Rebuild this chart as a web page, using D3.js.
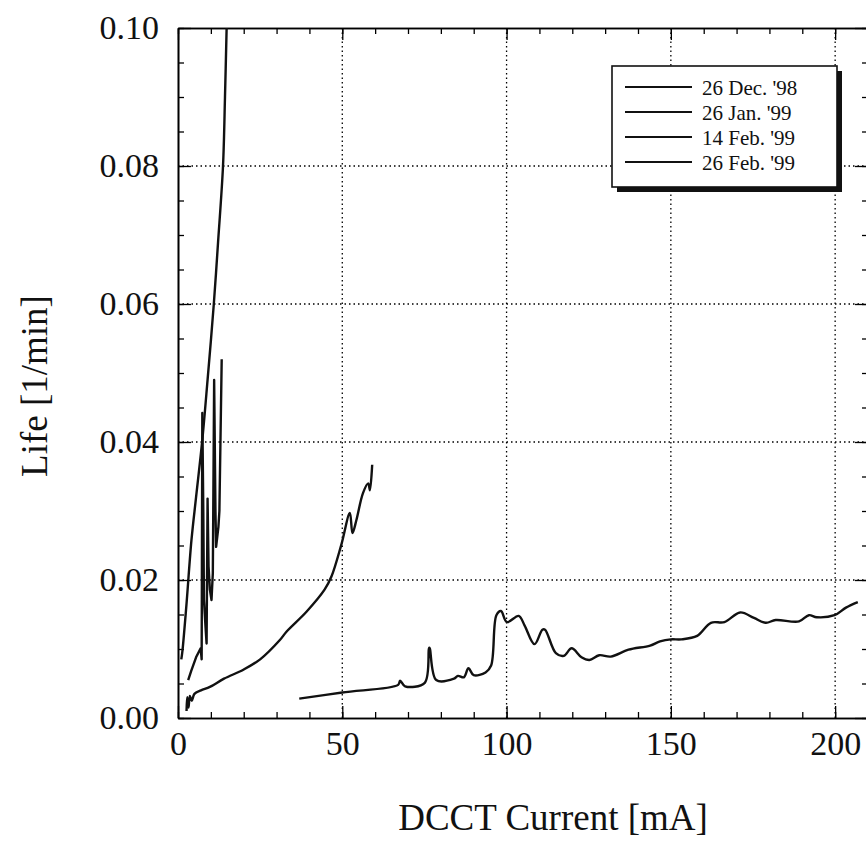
<!DOCTYPE html>
<html>
<head>
<meta charset="utf-8">
<script src="https://cdn.jsdelivr.net/npm/d3@7"></script>
<style>
  body { margin: 0; background: #fff; }
  svg { display: block; font-family: "Liberation Serif", "DejaVu Serif", serif; }
</style>
</head>
<body>
<svg id="chart"></svg>
<script>
// series: [DCCT current (mA), life (1/min)]
let seriesNames = ["26 Dec. '98", "26 Jan. '99", "14 Feb. '99", "26 Feb. '99"];

let dec98 = [
  [1.0, 0.0085], [1.3, 0.0095], [2.5, 0.016], [4.1, 0.0258], [5.5, 0.032],
  [7.4, 0.0403], [9.0, 0.049], [10.9, 0.060], [12.2, 0.069], [13.7, 0.080],
  [14.3, 0.090], [14.8, 0.100]
];

let jan99 = [
  [3.1, 0.0055], [4.0, 0.0068], [5.5, 0.0088], [6.9, 0.0101], [7.2, 0.0085],
  [7.4, 0.0442], [7.7, 0.030], [7.9, 0.0171], [8.4, 0.013], [8.7, 0.0108],
  [9.0, 0.0318], [9.3, 0.022], [9.7, 0.0186], [10.2, 0.0171], [10.6, 0.021],
  [11.0, 0.049], [11.4, 0.030], [11.6, 0.0248], [12.3, 0.0277], [12.6, 0.030],
  [13.3, 0.052]
];

let feb14 = [
  [2.6, 0.0010], [2.8, 0.0030], [3.2, 0.0015], [3.6, 0.0032], [4.2, 0.0025],
  [5.0, 0.0035], [7.0, 0.0040], [9.7, 0.0045], [14.0, 0.0057], [19.9, 0.0070],
  [25.0, 0.0085], [31.0, 0.0113], [33.0, 0.0125], [39.1, 0.0154], [44.6, 0.0186],
  [46.7, 0.0205], [49.7, 0.0251], [52.3, 0.0297], [53.1, 0.0268], [54.3, 0.0287],
  [56.3, 0.0326], [57.9, 0.034], [58.4, 0.033], [59.1, 0.0367]
];

let feb26 = [
  [36.9, 0.0028], [50.0, 0.0037], [67.0, 0.0048], [67.6, 0.0054], [69.1, 0.0046],
  [75.1, 0.0051], [76.5, 0.0102], [78.6, 0.0055], [84.0, 0.0057], [85.2, 0.0061],
  [87.0, 0.0059], [88.4, 0.0072], [90.0, 0.0062], [93.6, 0.0066], [95.3, 0.0076],
  [96.9, 0.0149], [98.3, 0.0155], [100.1, 0.0139], [103.7, 0.0148], [105.5, 0.0134],
  [108.5, 0.0107], [110.9, 0.0128], [111.7, 0.0128], [115.0, 0.0094], [117.4, 0.0090],
  [119.8, 0.0101], [122.8, 0.0088], [125.2, 0.0084], [128.2, 0.0091], [131.7, 0.0089],
  [137.1, 0.0099], [143.7, 0.0105], [146.7, 0.0111], [150.0, 0.0114], [153.2, 0.0114],
  [158.0, 0.0119], [162.2, 0.0138], [166.3, 0.0139], [171.1, 0.0153], [175.3, 0.0145],
  [178.9, 0.0138], [181.9, 0.0142], [189.0, 0.0140], [192.0, 0.0149], [194.4, 0.0146],
  [199.8, 0.0149], [203.3, 0.0160], [206.9, 0.0168]
];

let allSeries = [dec98, jan99, feb14, feb26];
let smooth = [true, false, true, true];

let xMajor = [0, 50, 100, 150, 200];
let yMajor = [0, 0.02, 0.04, 0.06, 0.08, 0.10];

let width = 866;
let height = 845;
let plotLeft = 178, plotRight = 868, plotTop = 28, plotBottom = 718;

let svg = d3.select("#chart").attr("width", width).attr("height", height);
svg.append("rect").attr("width", width).attr("height", height).attr("fill", "#fff");

let xScale = d3.scaleLinear().domain([0, 210]).range([plotLeft, plotRight]);
let yScale = d3.scaleLinear().domain([0, 0.10]).range([plotBottom, plotTop]);

// dotted grid
let grid = svg.append("g").attr("stroke", "#000").attr("stroke-width", 1.3)
  .attr("stroke-dasharray", "1.5,3");
grid.selectAll(".gx").data(xMajor.slice(1)).enter().append("line")
  .attr("x1", d => xScale(d)).attr("x2", d => xScale(d))
  .attr("y1", plotTop).attr("y2", plotBottom);
grid.selectAll(".gy").data(yMajor.slice(1, -1)).enter().append("line")
  .attr("x1", plotLeft).attr("x2", plotRight)
  .attr("y1", d => yScale(d)).attr("y2", d => yScale(d));

// ticks on all four sides, pointing inward
let xMinor = d3.range(0, 211, 10);
let yMinor = d3.range(0, 0.1001, 0.005);

let tickAxis = (axis, transform) => {
  let g = svg.append("g").attr("transform", transform).call(axis);
  g.selectAll("text").remove();
  g.select(".domain").attr("stroke-width", 1.6);
  g.selectAll(".tick line").attr("stroke-width", 1.3);
  return g;
};

tickAxis(d3.axisBottom(xScale).tickValues(xMinor).tickSizeInner(-6).tickSizeOuter(0), `translate(0,${plotBottom})`);
tickAxis(d3.axisBottom(xScale).tickValues(xMajor).tickSizeInner(-12).tickSizeOuter(0), `translate(0,${plotBottom})`);
tickAxis(d3.axisTop(xScale).tickValues(xMinor).tickSizeInner(-6).tickSizeOuter(0), `translate(0,${plotTop})`);
tickAxis(d3.axisTop(xScale).tickValues(xMajor).tickSizeInner(-12).tickSizeOuter(0), `translate(0,${plotTop})`);
tickAxis(d3.axisLeft(yScale).tickValues(yMinor).tickSizeInner(-6).tickSizeOuter(0), `translate(${plotLeft},0)`);
tickAxis(d3.axisLeft(yScale).tickValues(yMajor).tickSizeInner(-13).tickSizeOuter(0), `translate(${plotLeft},0)`);
tickAxis(d3.axisRight(yScale).tickValues(yMinor).tickSizeInner(-6).tickSizeOuter(0), `translate(${plotRight},0)`);
tickAxis(d3.axisRight(yScale).tickValues(yMajor).tickSizeInner(-13).tickSizeOuter(0), `translate(${plotRight},0)`);

// tick labels
let xLab = svg.append("g").attr("transform", `translate(0,${plotBottom})`)
  .call(d3.axisBottom(xScale).tickValues(xMajor).tickSize(0).tickPadding(13).tickFormat(d3.format("d")));
xLab.select(".domain").remove();
xLab.selectAll("text").attr("font-size", 34).attr("font-family", "Liberation Serif").attr("fill", "#111");

let yLab = svg.append("g").attr("transform", `translate(${plotLeft},0)`)
  .call(d3.axisLeft(yScale).tickValues(yMajor).tickSize(0).tickPadding(19).tickFormat(d3.format(".2f")));
yLab.select(".domain").remove();
yLab.selectAll("text").attr("font-size", 34).attr("font-family", "Liberation Serif").attr("fill", "#111");

// axis titles
svg.append("text").attr("x", 553).attr("y", 830).attr("text-anchor", "middle")
  .attr("font-size", 37).attr("fill", "#111").text("DCCT Current [mA]");
svg.append("text").attr("transform", "translate(47,386) rotate(-90)").attr("text-anchor", "middle")
  .attr("font-size", 37).attr("fill", "#111").text("Life [1/min]");

// data lines
svg.append("clipPath").attr("id", "clip").append("rect")
  .attr("x", plotLeft).attr("y", plotTop - 1).attr("width", plotRight - plotLeft).attr("height", plotBottom - plotTop + 1);

let lineSmooth = d3.line().x(d => xScale(d[0])).y(d => yScale(d[1])).curve(d3.curveCatmullRom.alpha(0.5));
let lineSharp = d3.line().x(d => xScale(d[0])).y(d => yScale(d[1]));
svg.append("g").attr("clip-path", "url(#clip)")
  .selectAll("path").data(allSeries).enter().append("path")
  .attr("d", (d, i) => (smooth[i] ? lineSmooth : lineSharp)(d))
  .attr("fill", "none").attr("stroke", "#111")
  .attr("stroke-width", 2.4).attr("stroke-linejoin", "round");

// legend
let legend = svg.append("g").attr("transform", "translate(612,66)");
legend.append("rect").attr("x", 5).attr("y", 5).attr("width", 225).attr("height", 121).attr("fill", "#111");
legend.append("rect").attr("x", 0).attr("y", 0).attr("width", 225).attr("height", 121)
  .attr("fill", "#fff").attr("stroke", "#111").attr("stroke-width", 1.6);
let rows = legend.selectAll(".row").data(seriesNames).enter().append("g")
  .attr("transform", (d, i) => `translate(0,${21 + i * 25})`);
rows.append("line").attr("x1", 13).attr("x2", 80).attr("stroke", "#111").attr("stroke-width", 1.8);
rows.append("text").attr("x", 90).attr("y", 8).attr("font-size", 21).attr("fill", "#111").text(d => d);
</script>
</body>
</html>
